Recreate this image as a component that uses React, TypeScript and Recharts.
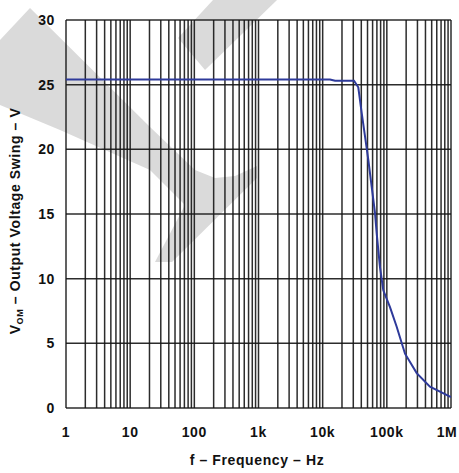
import React from "react";
import { LineChart, Line, XAxis, YAxis, CartesianGrid } from "recharts";

// frequency (Hz) and output voltage swing (V)
const freq = [1, 10, 100, 1000, 10000, 13000, 15600, 30800, 35900, 40600, 45700, 51400, 58100, 65300, 69500, 78200, 88100, 112000, 142000, 192000, 292000, 470000, 1000000];
const vom = [25.4, 25.4, 25.4, 25.4, 25.4, 25.4, 25.3, 25.3, 24.8, 22.8, 21.0, 19.2, 17.1, 15.1, 13.5, 10.9, 9.1, 7.8, 6.3, 4.2, 2.7, 1.65, 0.85];

const xTicks = [1, 10, 100, 1000, 10000, 100000, 1000000];
const xTickLabels = ["1", "10", "100", "1k", "10k", "100k", "1M"];
const yTicks = [0, 5, 10, 15, 20, 25, 30];

// log grid: 1..9 in each decade
const decades = [1, 10, 100, 1000, 10000, 100000];
const gridX: number[] = [];
decades.forEach((d) => {
  for (let m = 1; m <= 9; m++) gridX.push(m * d);
});
gridX.push(1000000);

const data = freq.map((f, i) => ({ f, v: vom[i] }));

const font = "'Liberation Sans', Arial, sans-serif";
const tickStyle = { fontFamily: font, fontSize: 14, fontWeight: 700, fill: "#111", letterSpacing: 0.6 };

const FreqTick = (props: any) => {
  const { x, y, payload, index } = props;
  const last = index === xTicks.length - 1;
  return (
    <text x={x} y={y} dy="0.71em" dx={last ? -4 : 0} textAnchor="middle" {...tickStyle}>
      {xTickLabels[xTicks.indexOf(payload.value)]}
    </text>
  );
};

const App = () => {
  return (
    <div style={{ position: "absolute", left: 0, top: 0, width: 459, height: 473, background: "#fff" }}>
      {/* faint watermark behind the chart */}
      <svg width={459} height={473} style={{ position: "absolute", left: 0, top: 0 }}>
        <polygon
          points="0,40 30,8 150,127 195,170 215,178 235,176 257,166 257,178 172,262 155,262 185,205 150,170 60,130 0,105"
          fill="#dadada"
        />
        <polygon points="213,0 277,0 205,70 178,38" fill="#dadada" />
      </svg>
      <div style={{ position: "absolute", left: 0, top: 0 }}>
        <LineChart width={459} height={473} data={data} margin={{ top: 20, right: 8, bottom: 35, left: 0 }}>
          <CartesianGrid
            stroke="#151515"
            strokeWidth={1.5}
            strokeOpacity={0.9}
            verticalValues={gridX}
            horizontalValues={yTicks}
          />
          <XAxis
            dataKey="f"
            type="number"
            scale="log"
            domain={[1, 1000000]}
            ticks={xTicks}
            axisLine={false}
            tickLine={false}
            tickSize={0}
            tickMargin={19}
            height={30}
            tick={<FreqTick />}
            interval={0}
            allowDataOverflow
          />
          <YAxis
            type="number"
            domain={[0, 30]}
            ticks={yTicks}
            axisLine={false}
            tickLine={false}
            tickSize={0}
            tickMargin={11}
            width={66}
            tick={tickStyle}
            interval={0}
          />
          <Line
            dataKey="v"
            type="linear"
            stroke="#2e3a9a"
            strokeWidth={2}
            dot={false}
            isAnimationActive={false}
          />
        </LineChart>
      </div>
      <svg width={459} height={473} style={{ position: "absolute", left: 0, top: 0, pointerEvents: "none" }}>
        <text x={257} y={465} textAnchor="middle" fontFamily={font} fontSize={14} fontWeight={700} fill="#111" letterSpacing={0.6}>
          f – Frequency – Hz
        </text>
        <text
          x={0}
          y={0}
          transform="translate(20,221) rotate(-90)"
          textAnchor="middle"
          fontFamily={font}
          fontSize={14}
          fontWeight={700}
          fill="#111"
          letterSpacing={0.6}
        >
          <tspan>V</tspan>
          <tspan fontSize={9} dy={3}>OM</tspan>
          <tspan dy={-3}> – Output Voltage Swing – V</tspan>
        </text>
      </svg>
    </div>
  );
};

export default App;
